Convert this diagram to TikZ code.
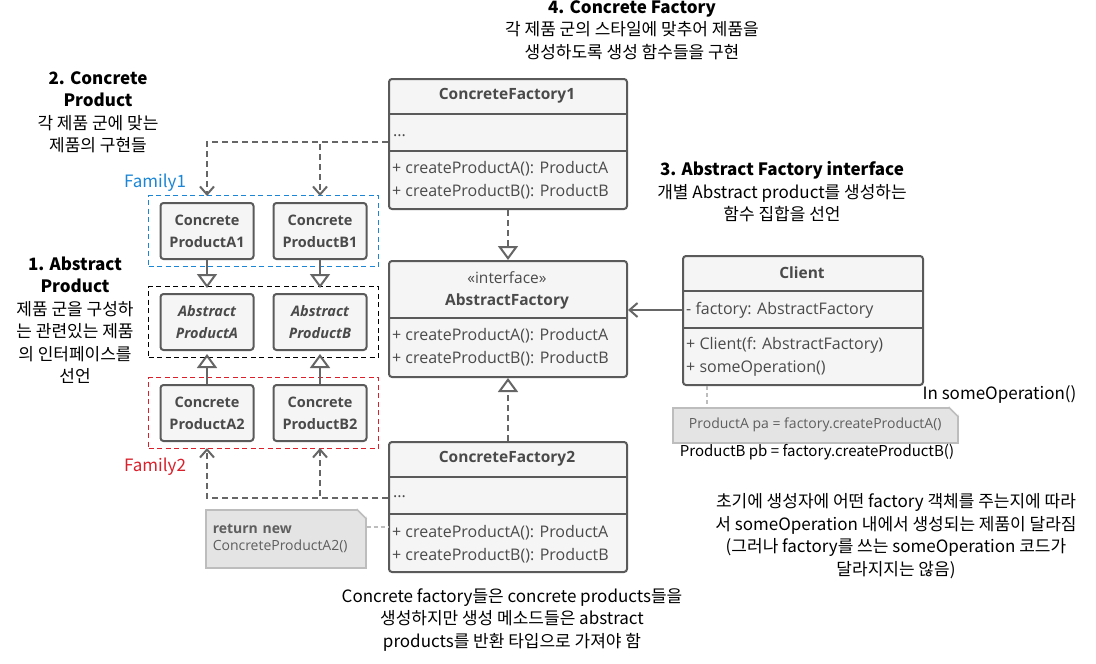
\documentclass[tikz,border=0pt]{standalone}
\usepackage{fontspec}
\setmainfont{Open Sans}
\newfontfamily\kr{Noto Sans CJK KR}
\usetikzlibrary{arrows.meta,positioning,fit}

\definecolor{boxfill}{HTML}{F5F5F5}
\definecolor{boxline}{HTML}{5A5A5A}
\definecolor{boxtext}{HTML}{4A4A4A}
\definecolor{wire}{HTML}{666666}
\definecolor{notefill}{HTML}{E4E4E4}
\definecolor{noteline}{HTML}{BDBDBD}
\definecolor{notetext}{HTML}{5E5E5E}
\definecolor{famblue}{HTML}{1C86D6}
\definecolor{famred}{HTML}{D9202B}

\tikzset{
  classbox/.style={draw=boxline, fill=boxfill, line width=2pt, rounded corners=3pt, anchor=north west, minimum width=238pt, inner sep=0pt},
  prodbox/.style={draw=boxline, fill=boxfill, line width=2pt, rounded corners=3pt, minimum width=93pt, minimum height=56pt, align=center, font=\fontsize{14.5}{22}\selectfont\bfseries, text=boxtext, inner sep=0pt},
  title/.style={font=\fontsize{15.5}{18}\selectfont\bfseries, text=boxtext},
  members/.style={anchor=west, align=left, font=\fontsize{16}{23}\selectfont, text=boxtext, inner sep=0pt},
  sep/.style={draw=boxline, line width=2pt},
  group/.style={dash pattern=on 5pt off 3.5pt, line width=1.3pt, inner xsep=11pt, inner ysep=6.5pt},
  famlabel/.style={font=\kr\fontsize{17}{20}\selectfont},
  dep/.style={draw=wire, line width=2pt, dash pattern=on 6pt off 4pt, -{Straight Barb[length=8pt,width=14pt]}},
  inh/.style={draw=wire, line width=2pt, -{Triangle[open,length=14pt,width=20pt]}},
  inhdash/.style={inh, dash pattern=on 6pt off 4pt},
  assoc/.style={draw=wire, line width=2pt, -{Straight Barb[length=8pt,width=14pt]}},
  note/.style={fill=notefill, draw=noteline, line width=1.5pt, anchor=north west, text=notetext, font=\fontsize{14}{17}\selectfont},
  notelink/.style={draw=noteline, line width=2pt, dash pattern=on 4pt off 3pt},
  remark/.style={font=\kr\fontsize{17}{22.5}\selectfont, align=center},
}

\begin{document}
\begin{tikzpicture}[x=1pt, y=-1pt]
  \useasboundingbox (0,0) rectangle (1096,664);

  % Concrete factory 1
  \node[classbox, minimum height=130pt] (cf1) at (388,78) {};
  \node[title] (cf1t) at (507,96) {ConcreteFactory1};
  \draw[sep] ([yshift=-36pt]cf1.north west) -- ([yshift=-36pt]cf1.north east);
  \node[members] (cf1f) at (393,136) {...};
  \draw[sep] ([yshift=-73pt]cf1.north west) -- ([yshift=-73pt]cf1.north east);
  \node[members] (cf1m) at (392,180) {+ createProductA(): ProductA\\+ createProductB(): ProductB};

  % Abstract factory
  \node[classbox, minimum height=116pt] (af) at (388,260) {};
  \node[members, anchor=center, font=\fontsize{15.5}{18}\selectfont] (aft) at (507,278) {«interface»};
  \node[title] (afn) at (507,301) {AbstractFactory};
  \draw[sep] ([yshift=-58pt]af.north west) -- ([yshift=-58pt]af.north east);
  \node[members] (afm) at (392,347) {+ createProductA(): ProductA\\+ createProductB(): ProductB};

  % Concrete factory 2
  \node[classbox, minimum height=130pt] (cf2) at (388,441) {};
  \node[title] (cf2t) at (507,459) {ConcreteFactory2};
  \draw[sep] ([yshift=-36pt]cf2.north west) -- ([yshift=-36pt]cf2.north east);
  \node[members] (cf2f) at (393,497) {...};
  \draw[sep] ([yshift=-73pt]cf2.north west) -- ([yshift=-73pt]cf2.north east);
  \node[members] (cf2m) at (392,544) {+ createProductA(): ProductA\\+ createProductB(): ProductB};

  % Client
  \node[classbox, minimum width=240pt, minimum height=129pt] (client) at (682,255) {};
  \node[title] (clt) at (802,273) {Client};
  \draw[sep] ([yshift=-36pt]client.north west) -- ([yshift=-36pt]client.north east);
  \node[members] (clf) at (686,310) {- factory: AbstractFactory};
  \draw[sep] ([yshift=-73pt]client.north west) -- ([yshift=-73pt]client.north east);
  \node[members] (clm) at (686,357) {+ Client(f: AbstractFactory)\\+ someOperation()};

  % Products
  \node[prodbox] (a1) at (207,231) {Concrete\\ProductA1};
  \node[prodbox] (b1) at (320,231) {Concrete\\ProductB1};
  \node[prodbox, font=\fontsize{14.5}{22}\selectfont\bfseries\itshape] (absa) at (207,322) {Abstract\\ProductA};
  \node[prodbox, font=\fontsize{14.5}{22}\selectfont\bfseries\itshape] (absb) at (320,322) {Abstract\\ProductB};
  \node[prodbox] (a2) at (207,413) {Concrete\\ProductA2};
  \node[prodbox] (b2) at (320,413) {Concrete\\ProductB2};

  % Families
  \node[group, draw=famblue, fit=(a1)(b1)] (fam1) {};
  \node[group, draw=black, fit=(absa)(absb)] (absgrp) {};
  \node[group, draw=famred, fit=(a2)(b2)] (fam2) {};
  \node[famlabel, text=famblue] (fam1lab) at (155,183) {Family1};
  \node[famlabel, text=famred] (fam2lab) at (155,467) {Family2};

  % Notes
  \node[note, minimum width=160pt, minimum height=58pt, text width=146pt, inner xsep=7pt, align=left] (rnote) at (205,509) {\textbf{return new}\\ConcreteProductA2()};
  \node[note, minimum width=285pt, minimum height=35pt] (pnote) at (672,407) {ProductA pa = factory.createProductA()};
  \foreach \n in {rnote,pnote} {
    \fill[white] ([xshift=-10pt]\n.north east) -- ([xshift=1pt,yshift=1pt]\n.north east) -- ([yshift=-10pt]\n.north east) -- cycle;
    \draw[noteline, line width=1.5pt] ([xshift=-10pt]\n.north east) -- ([yshift=-10pt]\n.north east);
  }
  \node[font=\kr\fontsize{17}{20}\selectfont, anchor=east] (inop) at (1080,394) {In someOperation()};
  \node[font=\kr\fontsize{15}{18}\selectfont] (pbline) at (817,452) {ProductB pb = factory.createProductB()};

  % Connectors
  \coordinate (cf1port) at (388,142);
  \coordinate (cf2port) at (388,498);
  \draw[dep, shorten >=6pt] (cf1port) -| (a1.north);
  \draw[dep, shorten >=6pt] (cf1port) -| (b1.north);
  \draw[dep, shorten >=6pt] (cf2port) -| (a2.south);
  \draw[dep, shorten >=6pt] (cf2port) -| (b2.south);
  \draw[inh, shorten >=5pt] (a1) -- (absa);
  \draw[inh, shorten >=5pt] (b1) -- (absb);
  \draw[inh, shorten >=3pt] (a2) -- (absa);
  \draw[inh, shorten >=3pt] (b2) -- (absb);
  \draw[inhdash] (cf1) -- (af);
  \draw[inhdash] (cf2) -- (af);
  \draw[assoc] (client.west |- clf) -- (af.east |- clf);
  \draw[notelink] ([yshift=12pt]rnote.east) -- ([yshift=12pt]rnote.east -| cf2.west);
  \draw[notelink] ([xshift=25pt]client.south west) -- ([xshift=25pt]client.south west |- pnote.north);

  % Remarks
  \node[remark] (r4) at (632,30) {\textbf{4. Concrete Factory}\\각 제품 군의 스타일에 맞추어 제품을\\생성하도록 생성 함수들을 구현};
  \node[remark] (r2) at (98,112) {\textbf{2. Concrete}\\\textbf{Product}\\각 제품 군에 맞는\\제품의 구현들};
  \node[remark] (r3) at (782,192) {\textbf{3. Abstract Factory interface}\\개별 Abstract product를 생성하는\\함수 집합을 선언};
  \node[remark] (r1) at (75,320) {\textbf{1. Abstract}\\\textbf{Product}\\제품 군을 구성하\\는 관련있는 제품\\의 인터페이스를\\선언};
  \node[remark] (rb) at (512,620) {Concrete factory들은 concrete products들을\\생성하지만 생성 메소드들은 abstract\\products를 반환 타입으로 가져야 함};
  \node[remark] (rr) at (896,536) {초기에 생성자에 어떤 factory 객체를 주는지에 따라\\서 someOperation 내에서 생성되는 제품이 달라짐\\(그러나 factory를 쓰는 someOperation 코드가\\달라지지는 않음)};
\end{tikzpicture}
\end{document}
